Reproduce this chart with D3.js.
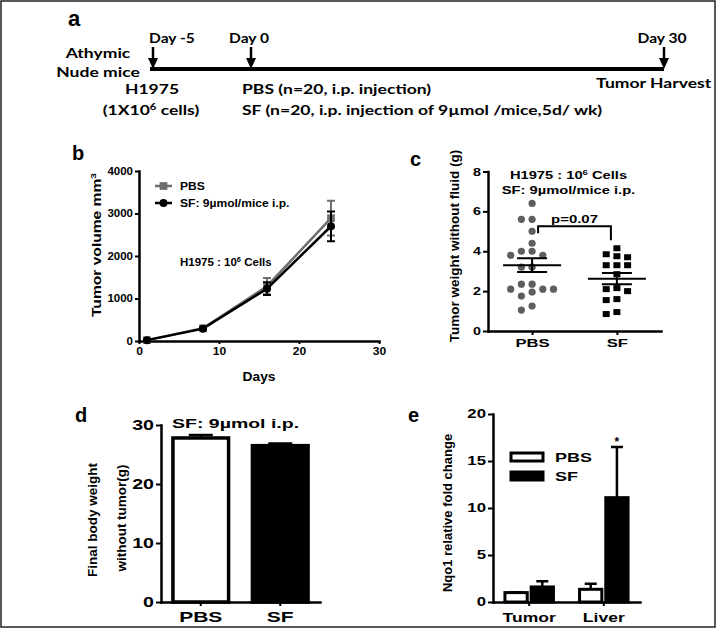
<!DOCTYPE html>
<meta charset="utf-8">
<style>
body { margin: 0; background: #fff; }
svg { display: block; font-family: "Liberation Sans", Arial, sans-serif; font-weight: bold; }
</style>
<body>
<svg width="716" height="637"></svg>
<script src="https://d3js.org/d3.v7.min.js"></script>
<script>
// a: study timeline
var timelineDays = [-5, 0, 30];
var timelineLabels = ["Day -5", "Day 0", "Day 30"];

// b: tumor volume (mm3) over days
var volDays = [1, 8, 16, 24];
var volPBS = [20, 300, 1290, 2890];
var volPBSErr = [10, 25, 190, 410];
var volSF = [20, 290, 1230, 2700];
var volSFErr = [10, 25, 150, 350];

// c: tumor weight (g), one value per mouse
var weightPBS = [6.4, 5.6, 5.6, 5.0, 4.4, 4.0, 4.0, 3.8, 3.8, 3.2, 3.2, 2.35, 2.35, 2.1, 2.1, 2.1, 1.95, 1.75, 1.25, 1.05];
var weightSF = [4.15, 3.85, 3.75, 3.7, 3.3, 3.3, 3.3, 2.85, 2.15, 2.1, 2.0, 1.6, 1.55, 0.95, 0.85];

// d: final body weight (g)
var bodyGroups = ["PBS", "SF"];
var bodyMean = [27.8, 26.5];
var bodyErr = [0.5, 0.35];

// e: Nqo1 fold change
var tissues = ["Tumor", "Liver"];
var nqoPBS = [1.0, 1.35];
var nqoPBSErr = [0.05, 0.6];
var nqoSF = [1.6, 11.1];
var nqoSFErr = [0.6, 5.4];

var FONT_A = "Lato, 'Open Sans', sans-serif";

var svg = d3.select("svg");
svg.append("rect").attr("width", 716).attr("height", 637).attr("fill", "#fff");
svg.append("rect").attr("x", 1).attr("y", 1).attr("width", 714).attr("height", 626)
    .attr("fill", "none").attr("stroke", "#222").attr("stroke-width", 1.5);

// text helper: sx stretches along the baseline
function txt(g, str, x, y, size, o) {
  o = o || {};
  var tr = "translate(" + x + "," + y + ")";
  if (o.rot) tr += " rotate(" + o.rot + ")";
  if (o.sx && o.sx != 1) tr += " scale(" + o.sx + ",1)";
  var t = g.append("text")
      .attr("transform", tr)
      .attr("text-anchor", o.anchor || "start")
      .style("font-size", size + "px");
  if (o.family) t.style("font-family", o.family);
  if (o.weight) t.style("font-weight", o.weight);
  if (str != null) t.text(str);
  return t;
}

function sup(t, base, s, rest, size) {
  t.append("tspan").text(base);
  t.append("tspan").attr("dy", -size * 0.4).style("font-size", (size * 0.65) + "px").text(s);
  if (rest) t.append("tspan").attr("dy", size * 0.4).text(rest);
}

function styleAxis(ax, size, sx, left) {
  ax.attr("font-family", null).attr("font-size", null);
  ax.select(".domain").attr("stroke-width", 2.5).attr("stroke-linecap", "square");
  ax.selectAll(".tick line").attr("stroke-width", 2);
  ax.selectAll(".tick text")
      .style("font-size", size + "px")
      .attr("fill", "#000")
      .each(function() {
        var t = d3.select(this);
        if (left) t.attr("x", (+t.attr("x")) / sx);
        t.attr("transform", "scale(" + sx + ",1)");
      });
}

/* ---------- a ---------- */
var ga = svg.append("g");
txt(ga, "a", 68, 26, 22);
var xt = d3.scaleLinear().domain(timelineDays).range([153, 251, 664]);
ga.append("line").attr("x1", xt(-5) - 3).attr("x2", xt(30)).attr("y1", 69).attr("y2", 69)
    .attr("stroke", "#000").attr("stroke-width", 4);
var dayAnchor = ["start", "middle", "middle"];
timelineDays.forEach(function(d, i) {
  var x = xt(d);
  ga.append("line").attr("x1", x).attr("x2", x).attr("y1", 47).attr("y2", 60)
      .attr("stroke", "#000").attr("stroke-width", 2.5);
  ga.append("path").attr("d", "M" + (x - 5) + ",58L" + (x + 5) + ",58L" + x + ",69Z");
  txt(ga, timelineLabels[i], i == 0 ? x - 4 : x - 2, 43, 13, {anchor: dayAnchor[i], family: FONT_A, sx: 1.2});
});
var aSx = 1.3;
txt(ga, "Athymic", 98, 58, 13.5, {anchor: "middle", family: FONT_A, sx: aSx});
txt(ga, "Nude mice", 98, 77, 13.5, {anchor: "middle", family: FONT_A, sx: aSx});
txt(ga, "H1975", 152, 94, 13.5, {anchor: "middle", family: FONT_A, sx: aSx});
sup(txt(ga, null, 151, 115, 13.5, {anchor: "middle", family: FONT_A, sx: aSx}), "(1X10", "6", " cells)", 13.5);
txt(ga, "PBS (n=20, i.p. injection)", 242, 94, 13.5, {family: FONT_A, sx: aSx});
txt(ga, "SF (n=20, i.p. injection of 9\u00b5mol /mice,5d/ wk)", 242, 115, 13.5, {family: FONT_A, sx: aSx});
txt(ga, "Tumor Harvest", 596, 88, 13.5, {family: FONT_A, sx: aSx});

/* ---------- b ---------- */
var gb = svg.append("g");
txt(gb, "b", 72, 160, 20);
var xb = d3.scaleLinear().domain([0, 30]).range([139, 379]);
var yb = d3.scaleLinear().domain([0, 4000]).range([341, 171]);
gb.append("g").attr("transform", "translate(0,341)")
    .call(d3.axisBottom(xb).tickValues([0, 10, 20, 30]).tickSize(3).tickSizeOuter(0).tickPadding(4))
    .call(styleAxis, 10.5, 1.15, false);
gb.append("g").attr("transform", "translate(139,0)")
    .call(d3.axisLeft(yb).tickValues([0, 1000, 2000, 3000, 4000]).tickFormat(d3.format("d"))
      .tickSize(4).tickSizeOuter(0).tickPadding(2))
    .call(styleAxis, 10, 1.15, true);

var series = [
  {name: "PBS", mean: volPBS, err: volPBSErr, color: "#6e6e6e", sym: d3.symbolSquare, size: 60},
  {name: "SF: 9\u00b5mol/mice i.p.", mean: volSF, err: volSFErr, color: "#000", sym: d3.symbolCircle, size: 50}
];
var lineB = d3.line().x(function(d) { return xb(d[0]); }).y(function(d) { return yb(d[1]); });
series.forEach(function(s, si) {
  var pts = volDays.map(function(d, i) { return [d, s.mean[i], s.err[i]]; });
  var gs = gb.append("g");
  gs.selectAll(".eb").data(pts).enter().append("path")
      .attr("d", function(d) {
        var x = xb(d[0]), y0 = yb(d[1] - d[2]), y1 = yb(d[1] + d[2]);
        return "M" + x + "," + y0 + "V" + y1 + "M" + (x - 4) + "," + y1 + "H" + (x + 4) + "M" + (x - 4) + "," + y0 + "H" + (x + 4);
      })
      .attr("stroke", s.color).attr("stroke-width", 2).attr("fill", "none");
  gs.append("path").datum(pts).attr("d", lineB).attr("fill", "none")
      .attr("stroke", s.color).attr("stroke-width", 2.5);
  gs.selectAll(".pt").data(pts).enter().append("path")
      .attr("transform", function(d) { return "translate(" + xb(d[0]) + "," + yb(d[1]) + ")"; })
      .attr("d", d3.symbol().type(s.sym).size(s.size)).attr("fill", s.color);
  // legend
  var ly = 186 + si * 17;
  gb.append("line").attr("x1", 155).attr("x2", 172).attr("y1", ly).attr("y2", ly)
      .attr("stroke", s.color).attr("stroke-width", 2.5);
  gb.append("path").attr("transform", "translate(163.5," + ly + ")")
      .attr("d", d3.symbol().type(s.sym).size(s.size)).attr("fill", s.color);
  txt(gb, s.name, 180, ly + 4, 10.5, {sx: 1.15});
});
sup(txt(gb, null, 180, 266, 10, {sx: 1.15}), "H1975 : 10", "6", " Cells", 10);
sup(txt(gb, null, 101, 245, 12.5, {anchor: "middle", rot: -90, sx: 1.25}), "Tumor volume mm", "3", null, 12.5);
txt(gb, "Days", 259, 381, 12, {anchor: "middle", sx: 1.15});

/* ---------- c ---------- */
var gc = svg.append("g");
txt(gc, "c", 410, 166, 20);
var yc = d3.scaleLinear().domain([0, 8]).range([331, 171.5]);
var xc = d3.scalePoint().domain(["PBS", "SF"]).range([488, 661]).padding(0.52);
gc.append("g").attr("transform", "translate(0,331)")
    .call(d3.axisBottom(xc).tickSize(4).tickSizeOuter(0).tickPadding(4))
    .call(styleAxis, 11.5, 1.45, false);
gc.append("g").attr("transform", "translate(488,0)")
    .call(d3.axisLeft(yc).tickValues([0, 2, 4, 6, 8]).tickSize(5).tickSizeOuter(0).tickPadding(2))
    .call(styleAxis, 11, 1.3, true);

function swarm(vals, y, minDy) {
  var placed = [], order = [0, -1, 1, -2, 2, -3, 3];
  vals.slice().sort(d3.descending).forEach(function(v) {
    var py = y(v), k;
    for (k = 0; k < order.length; k++) {
      var o = order[k];
      if (!placed.some(function(p) { return p.o === o && Math.abs(p.y - py) < minDy; })) break;
    }
    placed.push({v: v, y: py, o: order[k]});
  });
  return placed;
}
var dotStep = 10.7;
var groupsC = [
  {key: "PBS", vals: weightPBS, color: "#5e5e5e", square: false},
  {key: "SF", vals: weightSF, color: "#000", square: true}
];
groupsC.forEach(function(gr) {
  var cx = xc(gr.key);
  var pts = swarm(gr.vals, yc, 7);
  if (gr.square) {
    gc.selectAll(null).data(pts).enter().append("rect")
        .attr("x", function(d) { return cx + d.o * dotStep - 3.5; })
        .attr("y", function(d) { return d.y - 3; })
        .attr("width", 7).attr("height", 6).attr("fill", gr.color);
  } else {
    gc.selectAll(null).data(pts).enter().append("circle")
        .attr("cx", function(d) { return cx + d.o * dotStep; })
        .attr("cy", function(d) { return d.y; })
        .attr("r", 3.6).attr("fill", gr.color);
  }
  var m = d3.mean(gr.vals), se = d3.deviation(gr.vals) / Math.sqrt(gr.vals.length);
  gc.append("path")
      .attr("d", "M" + (cx - 29) + "," + yc(m) + "H" + (cx + 29) +
                 "M" + (cx - 15) + "," + yc(m + se) + "H" + (cx + 15) +
                 "M" + (cx - 15) + "," + yc(m - se) + "H" + (cx + 15) +
                 "M" + cx + "," + yc(m + se) + "V" + yc(m - se))
      .attr("stroke", "#000").attr("stroke-width", 2).attr("fill", "none");
});
var bx0 = xc("PBS") + 6, bx1 = xc("SF") - 6;
gc.append("path")
    .attr("d", "M" + bx0 + "," + yc(4.9) + "V" + yc(5.25) + "H" + bx1 + "V" + yc(4.55))
    .attr("stroke", "#000").attr("stroke-width", 2).attr("fill", "none");
txt(gc, "p=0.07", (bx0 + bx1) / 2, yc(5.25) - 3, 11.5, {anchor: "middle", sx: 1.3});
var cMid = (xc("PBS") + xc("SF")) / 2 - 6;
sup(txt(gc, null, cMid, 179, 10.5, {anchor: "middle", sx: 1.4}), "H1975 : 10", "6", " Cells", 10.5);
txt(gc, "SF: 9\u00b5mol/mice i.p.", cMid, 194, 10.5, {anchor: "middle", sx: 1.4});
txt(gc, "Tumor weight without fluid (g)", 459, 246, 12.5, {anchor: "middle", rot: -90, sx: 1.08});

/* ---------- d ---------- */
var gd = svg.append("g");
txt(gd, "d", 75, 422, 20);
var yd = d3.scaleLinear().domain([0, 30]).range([602, 425]);
var xd = d3.scaleBand().domain(bodyGroups).range([161, 320]).paddingInner(0.3).paddingOuter(0.15);
gd.selectAll(null).data(bodyGroups).enter().append("rect")
    .attr("x", function(d) { return xd(d); })
    .attr("y", function(d, i) { return yd(bodyMean[i]); })
    .attr("width", xd.bandwidth())
    .attr("height", function(d, i) { return yd(0) - yd(bodyMean[i]); })
    .attr("fill", function(d, i) { return i == 0 ? "#fff" : "#000"; })
    .attr("stroke", "#000").attr("stroke-width", 3.5);
gd.selectAll(null).data(bodyGroups).enter().append("path")
    .attr("d", function(d, i) {
      var x = xd(d) + xd.bandwidth() / 2, y0 = yd(bodyMean[i]), y1 = yd(bodyMean[i] + bodyErr[i]);
      return "M" + x + "," + y0 + "V" + y1 + "M" + (x - 12) + "," + y1 + "H" + (x + 12);
    })
    .attr("stroke", "#000").attr("stroke-width", 2.5);
gd.append("g").attr("transform", "translate(0,602)")
    .call(d3.axisBottom(xd).tickSize(4).tickSizeOuter(0).tickPadding(6))
    .call(styleAxis, 14, 1.5, false);
gd.append("g").attr("transform", "translate(161,0)")
    .call(d3.axisLeft(yd).tickValues([0, 10, 20, 30]).tickSize(5).tickSizeOuter(0).tickPadding(2))
    .call(styleAxis, 14, 1.4, true);
txt(gd, "SF: 9\u00b5mol i.p.", 172, 428, 13, {sx: 1.5});
txt(gd, "Final body weight", 97, 520, 13.5, {anchor: "middle", rot: -90});
txt(gd, "without tumor(g)", 126, 518, 13.5, {anchor: "middle", rot: -90});

/* ---------- e ---------- */
var ge = svg.append("g");
txt(ge, "e", 408, 422, 20);
var ye = d3.scaleLinear().domain([0, 20]).range([602, 414]);
var xe = d3.scaleBand().domain(tissues).range([493, 640]).paddingInner(0.35).paddingOuter(0.16);
var xeIn = d3.scaleBand().domain(["PBS", "SF"]).range([0, xe.bandwidth()]).paddingInner(0.15);
var eRows = [];
tissues.forEach(function(t, i) {
  eRows.push({t: t, g: "PBS", v: nqoPBS[i], e: nqoPBSErr[i]});
  eRows.push({t: t, g: "SF", v: nqoSF[i], e: nqoSFErr[i]});
});
ge.selectAll(null).data(eRows).enter().append("path")
    .attr("d", function(d) {
      var x = xe(d.t) + xeIn(d.g) + xeIn.bandwidth() / 2, y0 = ye(d.v), y1 = ye(d.v + d.e);
      return "M" + x + "," + y0 + "V" + y1 + "M" + (x - 6) + "," + y1 + "H" + (x + 6);
    })
    .attr("stroke", "#000").attr("stroke-width", 2.5);
ge.selectAll(null).data(eRows).enter().append("rect")
    .attr("x", function(d) { return xe(d.t) + xeIn(d.g); })
    .attr("y", function(d) { return ye(d.v); })
    .attr("width", xeIn.bandwidth())
    .attr("height", function(d) { return ye(0) - ye(d.v); })
    .attr("fill", function(d) { return d.g == "PBS" ? "#fff" : "#000"; })
    .attr("stroke", "#000").attr("stroke-width", 3);
ge.append("g").attr("transform", "translate(0,602)")
    .call(d3.axisBottom(xe).tickSize(4).tickSizeOuter(0).tickPadding(6))
    .call(styleAxis, 13.5, 1.3, false);
ge.append("g").attr("transform", "translate(493,0)")
    .call(d3.axisLeft(ye).tickValues([0, 5, 10, 15, 20]).tickSize(5).tickSizeOuter(0).tickPadding(2))
    .call(styleAxis, 12, 1.4, true);
var liverSF = eRows[3];
txt(ge, "*", xe(liverSF.t) + xeIn(liverSF.g) + xeIn.bandwidth() / 2, ye(liverSF.v + liverSF.e) - 1, 12, {anchor: "middle"});
["PBS", "SF"].forEach(function(g, i) {
  var ly = 453 + i * 19;
  ge.append("rect").attr("x", 511).attr("y", ly).attr("width", 32).attr("height", 8)
      .attr("fill", g == "PBS" ? "#fff" : "#000").attr("stroke", "#000").attr("stroke-width", 3);
  txt(ge, g, 555, ly + 9, 12, {sx: 1.5});
});
txt(ge, "Nqo1 relative fold change", 452, 513, 13, {anchor: "middle", rot: -90});
</script>
</body>
